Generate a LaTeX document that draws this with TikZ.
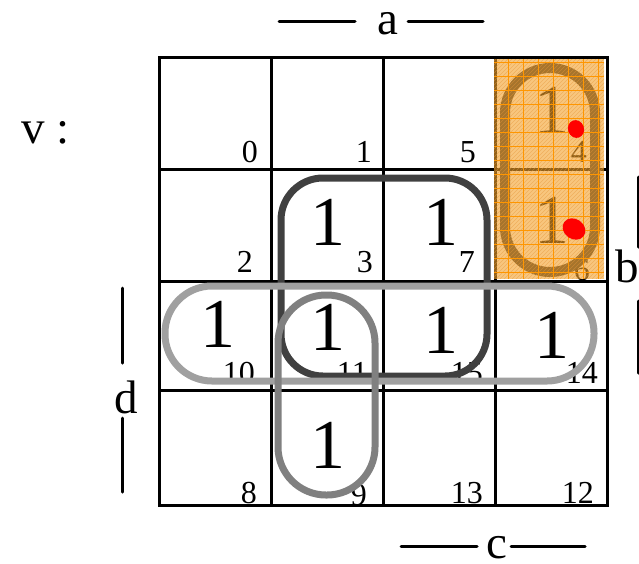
\documentclass[tikz,border=0pt]{standalone}
\usepackage{fontspec}
\setmainfont{Liberation Serif}
\definecolor{dloop}{HTML}{404040}
\definecolor{lloop}{HTML}{A0A0A0}
\definecolor{mloop}{HTML}{808080}
\definecolor{ovl}{RGB}{243,160,40}
\definecolor{fineor}{RGB}{255,150,0}
\definecolor{hatch}{RGB}{230,150,60}
\begin{document}
\begin{tikzpicture}[x=1pt,y=-1pt,
  one/.style={font=\fontsize{70}{70}\selectfont, anchor=base, inner sep=0pt},
  num/.style={font=\fontsize{32}{32}\selectfont, anchor=base east, inner sep=0pt},
  lbl/.style={font=\fontsize{47}{47}\selectfont, inner sep=0pt},
  gridln/.style={line width=3pt, line cap=rect},
  barln/.style={line width=3pt, line cap=round},
  loopln/.style={line width=7pt}]
\useasboundingbox (0,0) rectangle (639,563);
% grid
\foreach \x in {159,271,383,495,607} \draw[gridln] (\x,57) -- (\x,505);
\foreach \y in {57,169,281,390,505} \draw[gridln] (159,\y) -- (607,\y);
% ones
\node[one] (o4)  at (552,133) {1};
\node[one] (o6)  at (552,243) {1};
\node[one] (o3)  at (328,245) {1};
\node[one] (o7)  at (441,245) {1};
\node[one] (o10) at (218,347) {1};
\node[one] (o11) at (328,350) {1};
\node[one] (o15) at (441,353) {1};
\node[one] (o14) at (552,358) {1};
\node[one] (o9)  at (328,468) {1};
% cell numbers
\node[num] (n0)  at (258,162) {0};
\node[num] (n1)  at (372,162) {1};
\node[num] (n5)  at (476,162) {5};
\node[num] (n4)  at (587,162) {4};
\node[num] (n2)  at (253,272) {2};
\node[num] (n3)  at (373,272) {3};
\node[num] (n7)  at (475,272) {7};
\node[num] (n6)  at (590,280) {6};
\node[num] (n10) at (255,383) {10};
\node[num] (n11) at (368,383) {11};
\node[num] (n15) at (483,383) {15};
\node[num] (n14) at (598,383) {14};
\node[num] (n8)  at (257,503) {8};
\node[num] (n9)  at (367,505) {9};
\node[num] (n13) at (483,503) {13};
\node[num] (n12) at (594,503) {12};
% loops
\draw[loopln, dloop, rounded corners=42pt] (281,178) rectangle (487,376);
\draw[loopln, lloop, rounded corners=47pt] (165,286) rectangle (594,381);
\draw[loopln, mloop, rounded corners=48pt] (278,295) rectangle (375,495);
\draw[line width=10pt, black!80, rounded corners=45pt] (505,68) rectangle (595,272);
% orange overlay
\fill[ovl, fill opacity=0.6] (494,59) rectangle (604,279);
\begin{scope}
  \clip (494,59) rectangle (604,279);
  \foreach \k in {-230,-226,...,110} \draw[hatch, line width=0.6pt, opacity=0.5] (494+\k,279) -- ++(230,-230);
  \foreach \x in {508,523,...,603} \draw[fineor, line width=0.9pt] (\x,59) -- (\x,279);
  \foreach \y in {62,76,...,278} \draw[fineor, line width=0.9pt] (494,\y) -- (604,\y);
\end{scope}
% red marks
\fill[red, rotate around={20:(576,129)}] (576,129) ellipse (8pt and 9pt);
\fill[red, rotate around={-35:(574,229)}] (574,229) ellipse (12pt and 10pt);
% labels
\node[lbl, anchor=base, text height=23pt, text depth=0pt] (la) at (388,34) {a};
\draw[barln] (279,21) -- (355,21);
\draw[barln] (408,21) -- (483,21);
\node[lbl, anchor=base, text height=23pt, text depth=0pt] (lc) at (497,558) {c};
\draw[barln] (401,546) -- (477,546);
\draw[barln] (511,546) -- (585,546);
\node[lbl, anchor=base] (ld) at (126,413) {d};
\draw[barln] (122,288) -- (122,363);
\draw[barln] (122,418) -- (122,492);
\node[lbl, anchor=base east] (lb) at (639,282) {b};
\draw[barln] (638,177) -- (638,247);
\draw[barln] (638,301) -- (638,373);
\node[lbl, anchor=base west] (lv) at (21,143) {v :};
\end{tikzpicture}
\end{document}
